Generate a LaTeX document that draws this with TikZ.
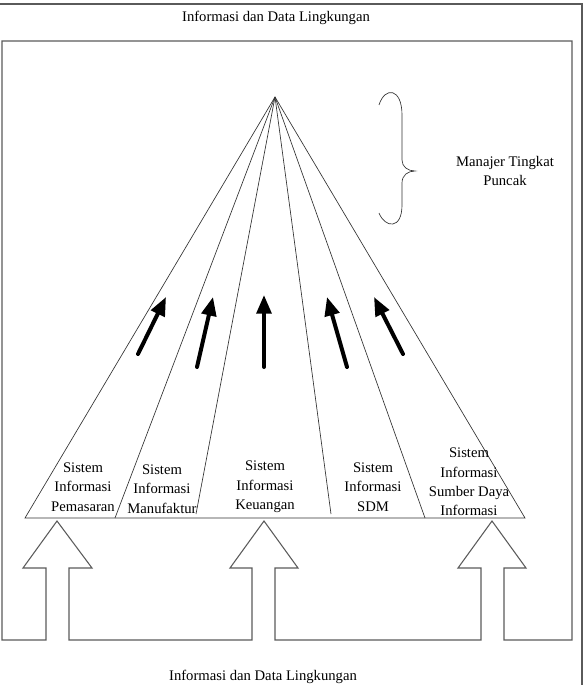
\documentclass[tikz,border=0pt]{standalone}
\usepackage{fontspec}
\setmainfont{Liberation Serif}
\usetikzlibrary{arrows.meta}
\definecolor{lineGray}{RGB}{90,90,90}

\begin{document}
\begin{tikzpicture}[x=.75pt,y=-.75pt,every node/.style={font=\fontsize{11}{14.5}\selectfont,align=center,inner sep=0pt},
    frame/.style={draw=lineGray,line width=.8pt},
    ray/.style={draw=black!80,line width=.5pt},
    upflow/.style={-{Triangle[length=14pt,width=11pt]},line width=3pt,line cap=round}]
        \useasboundingbox (0,0) rectangle (583,685);
        % outer frame (open at left and bottom)
        \draw[frame] (0,4) -- (582,4) -- (582,685);
        % inner box merged with the three hollow arrows
        \draw[frame] (2,41) -- (572,41) -- (572,640) -- (504,640) -- (504,568) -- (526,568) -- (492,521) -- (458,568) -- (481,568) -- (481,640)
          -- (275,640) -- (275,568) -- (298,568) -- (264,521) -- (230,568) -- (252,568) -- (252,640)
          -- (69,640) -- (69,568) -- (92,568) -- (57,521) -- (23,568) -- (46,568) -- (46,640) -- (2,640) -- cycle;
        \node (envtop) at (276,18) {Informasi dan Data Lingkungan};
        \node (envbot) at (263,677) {Informasi dan Data Lingkungan};
        % pyramid
        \coordinate (apex) at (275,97);
        \coordinate (bl) at (25,518);
        \coordinate (br) at (525,518);
        \draw[ray] (bl) -- (apex) -- (br) -- cycle;
        \draw[ray] (apex) -- (115,518);
        \draw[ray] (apex) -- (196,514);
        \draw[ray] (apex) -- (331,514);
        \draw[ray] (apex) -- (425,518);
        \node (pemasaran) at (83,487) {Sistem\\Informasi\\Pemasaran};
        \node (manufaktur) at (162,489) {Sistem\\Informasi\\Manufaktur};
        \node (keuangan) at (265,487) {Sistem\\Informasi\\Keuangan};
        \node (sdm) at (373,487) {Sistem\\Informasi\\SDM};
        \node (sumberdaya) at (469,482) {Sistem\\Informasi\\Sumber Daya\\Informasi};
        % upward flows
        \draw[upflow] (138,354) -- (166,297);
        \draw[upflow] (197,367) -- (213,297);
        \draw[upflow] (264,367) -- (264,295);
        \draw[upflow] (347,367) -- (327,297);
        \draw[upflow] (403,354) -- (374,297);
        % brace and top level
        \draw[ray] (379,105) .. controls (385,86) and (402,88) .. (402,115) -- (402,160)
          .. controls (402,167) and (408,171) .. (415,171) .. controls (408,171) and (402,175) .. (402,183)
          -- (402,205) .. controls (402,230) and (385,228) .. (379,213);
        \node (manajer) at (505,171) {Manajer Tingkat\\Puncak};
      \end{tikzpicture}
\end{document}
